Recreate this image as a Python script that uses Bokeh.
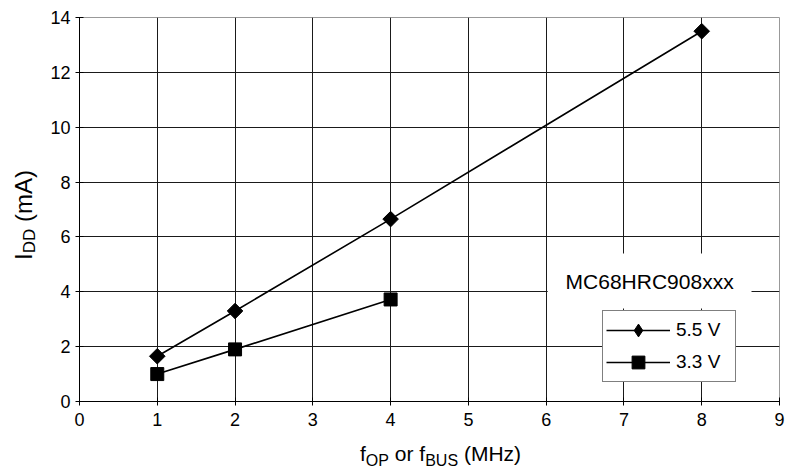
import math
from bokeh.plotting import figure
from bokeh.models import (Range1d, FixedTicker, Label, BoxAnnotation,
                          Legend, LegendItem, Div)
from bokeh.layouts import row, column
from bokeh.embed import file_html
from bokeh.resources import INLINE

# ---- data ----
freq_55 = [1, 2, 4, 8]
idd_55 = [1.65, 3.3, 6.65, 13.5]
freq_33 = [1, 2, 4]
idd_33 = [1.0, 1.9, 3.72]
series_names = ["5.5 V", "3.3 V"]
x_ticks = [0, 1, 2, 3, 4, 5, 6, 7, 8, 9]
y_ticks = [0, 2, 4, 6, 8, 10, 12, 14]
annotation_text = "MC68HRC908xxx"
x_title_html = "f<sub>OP</sub> or f<sub>BUS</sub> (MHz)"
y_title_html = "I<sub>DD</sub> (mA)"

FONT = "Liberation Sans"

p = figure(width=746, height=440,
           x_range=Range1d(0, 9), y_range=Range1d(0, 14),
           output_backend="svg", toolbar_location=None,
           min_border_left=39, min_border_right=7,
           min_border_top=17, min_border_bottom=39,
           margin=(0, 0, 0, 0))
p.background_fill_color = "white"
p.border_fill_color = "white"
p.outline_line_color = "#999999"
p.outline_line_width = 1

for ax, ticks in ((p.xaxis, x_ticks), (p.yaxis, y_ticks)):
    ax.ticker = FixedTicker(ticks=ticks)
    ax.axis_line_color = "black"
    ax.axis_line_width = 1
    ax.major_tick_line_color = "black"
    ax.major_tick_in = 4
    ax.major_tick_out = 4
    ax.minor_tick_line_color = None
    ax.major_label_text_font = FONT
    ax.major_label_text_font_size = "18px"
    ax.major_label_text_color = "black"
p.xaxis.major_label_standoff = 7
p.yaxis.major_label_standoff = 5

p.xgrid.ticker = FixedTicker(ticks=x_ticks[1:-1])
p.ygrid.ticker = FixedTicker(ticks=y_ticks[1:-1])
for g in (p.xgrid, p.ygrid):
    g.grid_line_color = "#1a1a1a"
    g.grid_line_width = 1

# annotation box
box = BoxAnnotation(left=6.02, right=8.64, bottom=3.39, top=5.40,
                    fill_color="white", fill_alpha=1.0, line_color=None)
p.add_layout(box)
p.add_layout(Label(x=7.33, y=4.36, text=annotation_text, text_align="center",
                   text_baseline="middle", text_font=FONT,
                   text_font_size="21px", text_color="black"))

# series
l1 = p.line(freq_55, idd_55, line_color="black", line_width=1.6)
s1_leg = p.scatter(freq_55, idd_55, marker="diamond", size=13,
                   fill_color="black", line_color="black")
s1 = p.scatter(freq_55, idd_55, marker="square", angle=math.pi / 4, size=11,
               fill_color="black", line_color="black")
l2 = p.line(freq_33, idd_33, line_color="black", line_width=1.6)
s2 = p.scatter(freq_33, idd_33, marker="square", size=13,
               fill_color="black", line_color="black")

legend = Legend(items=[LegendItem(label=series_names[0], renderers=[l1, s1_leg]),
                       LegendItem(label=series_names[1], renderers=[l2, s2])],
                location=(523, 19))
legend.border_line_color = "black"
legend.border_line_width = 1
legend.background_fill_color = "white"
legend.background_fill_alpha = 1.0
legend.padding = 3
legend.spacing = 0
legend.glyph_width = 64
legend.glyph_height = 32
legend.label_height = 20
legend.label_width = 56
legend.label_standoff = 6
legend.label_text_font = FONT
legend.label_text_font_size = "19px"
legend.label_text_color = "black"
legend.margin = 0
p.add_layout(legend)

# ---- axis titles with subscripts as real HTML text ----
x_div = Div(text=(
    "<div style=\"font-family:'Liberation Sans'; font-size:21px; line-height:24px;"
    " white-space:nowrap; color:black; padding-left:360px; padding-top:2px\">"
    + x_title_html.replace("<sub>", "<sub style=\"font-size:16px\">") + "</div>"),
    width=786, height=30, margin=(0, 0, 0, 0))

y_div = Div(text=(
    "<div style=\"font-family:'Liberation Sans'; font-size:24px; line-height:26px;"
    " white-space:nowrap; color:black; writing-mode:vertical-rl;"
    " transform:rotate(180deg); margin-left:11px; margin-top:170px\">"
    + y_title_html.replace("<sub>", "<sub style=\"font-size:17px\">") + "</div>"),
    width=40, height=440, margin=(0, 0, 0, 0))

layout = column(row(y_div, p, spacing=0, margin=(0, 0, 0, 0)), x_div,
                spacing=0, margin=(0, 0, 0, 0))

open("out.html", "w").write(file_html(layout, INLINE))
